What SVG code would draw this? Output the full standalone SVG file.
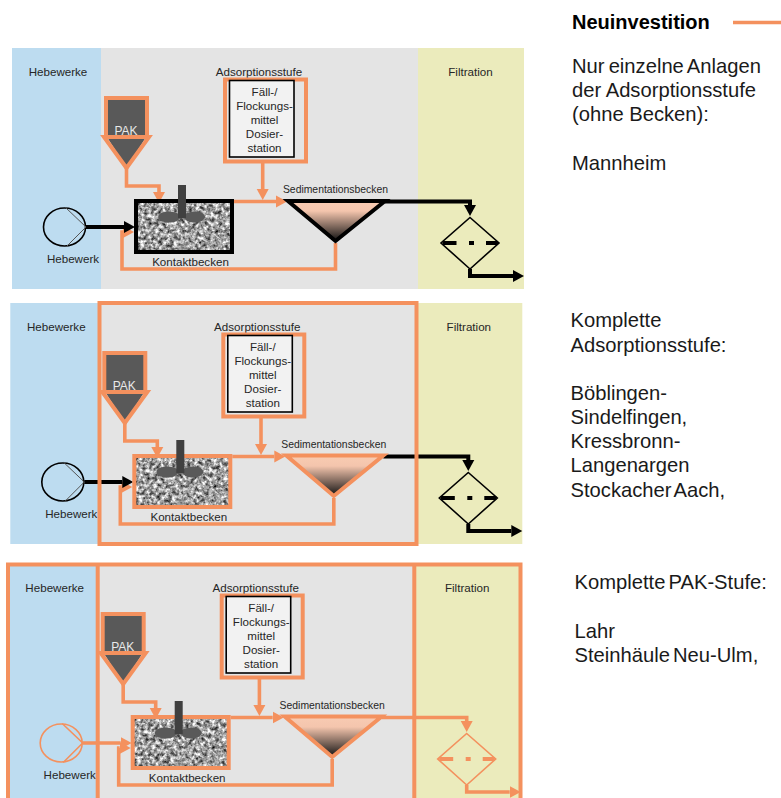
<svg xmlns="http://www.w3.org/2000/svg" width="781" height="798" viewBox="0 0 781 798">
<style>
text{font-family:"Liberation Sans",Arial,sans-serif;fill:#262626}
.lab{font-size:11.6px;text-anchor:middle}
.sed{font-size:10.4px;text-anchor:middle}
.side{font-size:20.2px;fill:#1a1a1a}
.head{font-size:20px;font-weight:bold;fill:#000}
.ws{word-spacing:-2.500px}
.ws1{word-spacing:-1.500px}
.pak{font-size:12px;text-anchor:middle;fill:#e8e8e8}
.blue{fill:#bddcf0}.grey{fill:#e4e4e4}.yel{fill:#ebebbc}
.dark{fill:#595959}
.stem{fill:#404040}
.o,.k,.o2,.k2{fill:none;stroke-linejoin:miter}
.o{stroke:#f4915e;stroke-width:3.6}
.k{stroke:#000;stroke-width:4}
.o2{stroke:#f4915e;stroke-width:1.6}
.k2{stroke:#000;stroke-width:1.6}
.k3{fill:none;stroke:#555;stroke-width:1}
.fr{fill:none;stroke:#f4915e;stroke-width:4}
.frk{fill:none;stroke:#000;stroke-width:4}
.box{fill:#f2f2f2;stroke:#000;stroke-width:1.6}
.dk{fill:none;stroke:#000;stroke-width:4;stroke-dasharray:14 12.5 5 12 14}
.do{fill:none;stroke:#f4915e;stroke-width:4;stroke-dasharray:14 12.5 5 12 14}
.ao{marker-end:url(#ao)}.ak{marker-end:url(#ak)}
</style>
<defs>
<marker id="ao" markerUnits="userSpaceOnUse" markerWidth="12" markerHeight="13" viewBox="0 0 12 13" refX="0" refY="6.5" orient="auto"><path d="M0,0.5L11,6.5L0,12.5Z" fill="#f4915e"/></marker>
<marker id="ak" markerUnits="userSpaceOnUse" markerWidth="12" markerHeight="13" viewBox="0 0 12 13" refX="0" refY="6.5" orient="auto"><path d="M0,0.5L11,6.5L0,12.5Z" fill="#000"/></marker>
<linearGradient id="g" x1="0" y1="0" x2="0" y2="1"><stop offset="0" stop-color="#f8cbb2"/><stop offset="0.25" stop-color="#f4c5ad"/><stop offset="1" stop-color="#111"/></linearGradient>
<filter id="tx" x="0" y="0" width="1" height="1" color-interpolation-filters="sRGB"><feTurbulence type="fractalNoise" baseFrequency="0.27" numOctaves="3" seed="7"/><feColorMatrix type="matrix" values="1.5 0 0 0 -0.13 1.5 0 0 0 -0.13 1.5 0 0 0 -0.13 0 0 0 0 1"/><feGaussianBlur stdDeviation="0.5"/></filter>
</defs>

<g id="panel1">
<g id="p1-zones"><rect class="blue" x="12" y="48" width="89" height="241"/><rect class="grey" x="101" y="48" width="317" height="241"/><rect class="yel" x="418" y="48" width="106" height="241"/>
<text class="lab" x="58" y="76">Hebewerke</text><text class="lab" x="259" y="76">Adsorptionsstufe</text><text class="lab" x="470.500" y="76">Filtration</text></g>
<g id="p1-connectors">
<path class="o ao" d="M126.500,168V186H159V192"/>
<path class="o ao" d="M262.700,163V189"/>
<path class="o ao" d="M234,201.500H276"/>
<path class="o ao" d="M335.500,243V269H122V232H123"/>
<path class="k ak" d="M86,227H124"/>
<path class="k ak" d="M385,201.500H470V205"/>
<path class="k ak" d="M470,269V276H513"/>
</g>
<g id="p1-hebewerk"><ellipse class="k2" cx="64.500" cy="227" rx="21" ry="19"/><path class="k3" d="M65.500,207.500L86,227L66.500,246.500"/><text class="lab" x="73" y="263">Hebewerk</text></g>
<g id="p1-pak"><rect class="dark" x="106" y="98" width="41" height="39"/><rect class="fr" x="106" y="98" width="41" height="39"/><path class="dark" d="M107,137H146L126.500,168Z"/><path class="fr" d="M104,137H149L126.500,168Z"/><text class="pak" x="126" y="135">PAK</text></g>
<g id="p1-dosing"><rect class="fr" x="225" y="79.500" width="81" height="82"/><rect class="box" x="229.500" y="80.500" width="64.500" height="76.500"/>
<text class="lab" x="264.500" y="96">Fäll-/</text><text class="lab" x="264.500" y="110">Flockungs-</text><text class="lab" x="264.500" y="124">mittel</text><text class="lab" x="264.500" y="138">Dosier-</text><text class="lab" x="264.500" y="152">station</text></g>
<g id="p1-kontakt"><rect x="136" y="201" width="96" height="51" filter="url(#tx)"/><rect class="frk" x="136" y="201" width="96" height="51"/><ellipse class="dark" cx="169" cy="217" rx="11" ry="5.500"/><ellipse class="dark" cx="194.500" cy="217" rx="10.500" ry="5.500"/><rect class="stem" x="178" y="185" width="8" height="33"/><text class="lab" x="190.500" y="266">Kontaktbecken</text></g>
<g id="p1-sed"><path d="M290,201H384L335.500,241Z" fill="url(#g)"/><path class="frk" d="M288,201H385L335.500,241Z"/><text class="sed" x="335.500" y="193">Sedimentationsbecken</text></g>
<g id="p1-filter"><path class="k2" d="M470,217.500L499,243L470,269L441,243Z"/><path class="dk" d="M442.500,243H498"/></g>
</g>

<g id="panel2" transform="translate(-1.700 255)">
<g id="p2-zones"><rect class="blue" x="12" y="48" width="89" height="241"/><rect class="grey" x="101" y="48" width="317" height="241"/><rect class="yel" x="418" y="48" width="106" height="241"/>
<text class="lab" x="58" y="76">Hebewerke</text><text class="lab" x="259" y="76">Adsorptionsstufe</text><text class="lab" x="470.500" y="76">Filtration</text></g>
<g id="p2-connectors">
<path class="o ao" d="M126.500,168V186H159V192"/>
<path class="o ao" d="M262.700,163V189"/>
<path class="o ao" d="M234,201.500H276"/>
<path class="o ao" d="M335.500,243V269H122V232H123"/>
<path class="k ak" d="M86,227H124"/>
<path class="k ak" d="M385,201.500H470V205"/>
<path class="k ak" d="M470,269V276H513"/>
</g>
<g id="p2-hebewerk"><ellipse class="k2" cx="64.500" cy="227" rx="21" ry="19"/><path class="k3" d="M65.500,207.500L86,227L66.500,246.500"/><text class="lab" x="73" y="263">Hebewerk</text></g>
<g id="p2-pak"><rect class="dark" x="106" y="98" width="41" height="39"/><rect class="fr" x="106" y="98" width="41" height="39"/><path class="dark" d="M107,137H146L126.500,168Z"/><path class="fr" d="M104,137H149L126.500,168Z"/><text class="pak" x="126" y="135">PAK</text></g>
<g id="p2-dosing"><rect class="fr" x="225" y="79.500" width="81" height="82"/><rect class="box" x="229.500" y="80.500" width="64.500" height="76.500"/>
<text class="lab" x="264.500" y="96">Fäll-/</text><text class="lab" x="264.500" y="110">Flockungs-</text><text class="lab" x="264.500" y="124">mittel</text><text class="lab" x="264.500" y="138">Dosier-</text><text class="lab" x="264.500" y="152">station</text></g>
<g id="p2-kontakt"><rect x="136" y="201" width="96" height="51" filter="url(#tx)"/><rect class="fr" x="136" y="201" width="96" height="51"/><ellipse class="dark" cx="169" cy="217" rx="11" ry="5.500"/><ellipse class="dark" cx="194.500" cy="217" rx="10.500" ry="5.500"/><rect class="stem" x="178" y="185" width="8" height="33"/><text class="lab" x="190.500" y="266">Kontaktbecken</text></g>
<g id="p2-sed"><path d="M290,201H384L335.500,241Z" fill="url(#g)"/><path class="fr" d="M288,200.500H385L335.500,241Z"/><text class="sed" x="335.500" y="193">Sedimentationsbecken</text></g>
<g id="p2-filter"><path class="k2" d="M470,217.500L499,243L470,269L441,243Z"/><path class="dk" d="M442.500,243H498"/></g>
<rect id="p2-frame" class="fr" x="101.200" y="48" width="317" height="241"/>
</g>

<g id="panel3" transform="translate(-3.300 516)">
<g id="p3-zones"><rect class="blue" x="12" y="48" width="89" height="241"/><rect class="grey" x="101" y="48" width="317" height="241"/><rect class="yel" x="418" y="48" width="106" height="241"/>
<text class="lab" x="58" y="76">Hebewerke</text><text class="lab" x="259" y="76">Adsorptionsstufe</text><text class="lab" x="470.500" y="76">Filtration</text></g>
<g id="p3-connectors">
<path class="o ao" d="M126.500,168V186H159V192"/>
<path class="o ao" d="M262.700,163V189"/>
<path class="o ao" d="M234,201.500H276"/>
<path class="o ao" d="M335.500,243V269H122V232H123"/>
<path class="o ao" d="M86,227H124"/>
<path class="o ao" d="M385,201.500H470V205"/>
<path class="o ao" d="M470,269V276H513"/>
</g>
<g id="p3-hebewerk"><ellipse class="o2" cx="64.500" cy="227" rx="21" ry="19"/><path class="o2" d="M65.500,207.500L86,227L66.500,246.500"/><text class="lab" x="73" y="263">Hebewerk</text></g>
<g id="p3-pak"><rect class="dark" x="106" y="98" width="41" height="39"/><rect class="fr" x="106" y="98" width="41" height="39"/><path class="dark" d="M107,137H146L126.500,168Z"/><path class="fr" d="M104,137H149L126.500,168Z"/><text class="pak" x="126" y="135">PAK</text></g>
<g id="p3-dosing"><rect class="fr" x="225" y="79.500" width="81" height="82"/><rect class="box" x="229.500" y="80.500" width="64.500" height="76.500"/>
<text class="lab" x="264.500" y="96">Fäll-/</text><text class="lab" x="264.500" y="110">Flockungs-</text><text class="lab" x="264.500" y="124">mittel</text><text class="lab" x="264.500" y="138">Dosier-</text><text class="lab" x="264.500" y="152">station</text></g>
<g id="p3-kontakt"><rect x="136" y="201" width="96" height="51" filter="url(#tx)"/><rect class="fr" x="136" y="201" width="96" height="51"/><ellipse class="dark" cx="169" cy="217" rx="11" ry="5.500"/><ellipse class="dark" cx="194.500" cy="217" rx="10.500" ry="5.500"/><rect class="stem" x="178" y="185" width="8" height="33"/><text class="lab" x="190.500" y="266">Kontaktbecken</text></g>
<g id="p3-sed"><path d="M290,201H384L335.500,241Z" fill="url(#g)"/><path class="fr" d="M288,200.500H385L335.500,241Z"/><text class="sed" x="335.500" y="193">Sedimentationsbecken</text></g>
<g id="p3-filter"><path class="o2" d="M470,217.500L499,243L470,269L441,243Z"/><path class="do" d="M442.500,243H498"/></g>
<path id="p3-frame" class="fr" d="M101,48V290M417.600,48V290M11.300,290V48.500H523.800V290"/>
</g>

<g id="legend">
<text class="head" x="572" y="29">Neuinvestition</text>
<path d="M733,22.500H781" fill="none" stroke="#f4915e" stroke-width="3.600"/>
<text class="side ws1" x="572" y="73">Nur einzelne Anlagen</text>
<text class="side" x="572" y="97">der Adsorptionsstufe</text>
<text class="side" x="572" y="121">(ohne Becken):</text>
<text class="side" x="572" y="170">Mannheim</text>
<text class="side" x="570.500" y="327">Komplette</text>
<text class="side" x="570.500" y="351.500">Adsorptionsstufe:</text>
<text class="side" x="570.500" y="400">Böblingen-</text>
<text class="side" x="570.500" y="424">Sindelfingen,</text>
<text class="side" x="570.500" y="448">Kressbronn-</text>
<text class="side" x="570.500" y="472">Langenargen</text>
<text class="side ws" x="570.500" y="496.500">Stockacher Aach,</text>
<text class="side ws" x="574.500" y="589">Komplette PAK-Stufe:</text>
<text class="side" x="574.500" y="638">Lahr</text>
<text class="side ws" x="574.500" y="662">Steinhäule Neu-Ulm,</text>
</g>
</svg>
